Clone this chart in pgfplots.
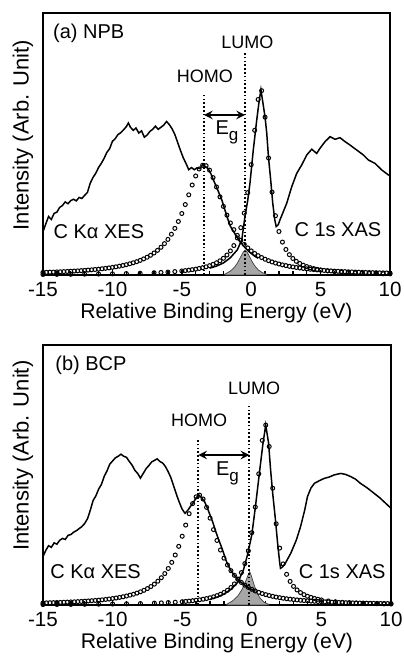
\documentclass[border=0pt]{standalone}
\usepackage{fontspec}
\setmainfont{Liberation Sans}
\usepackage{pgfplots}
\pgfplotsset{compat=1.18}
\newcommand\fa{\fontsize{10}{12}\selectfont}
\newcommand\fb{\fontsize{9}{11}\selectfont}
\newcommand\Eg{{\fontsize{10}{11}\selectfont E\raisebox{-0.55ex}{\fontsize{8.5}{9}\selectfont g}}}
\tikzset{vline/.style={dash pattern=on 0.8pt off 1.1pt, line width=0.9pt}}
\pgfplotsset{
  spec/.style={
    scale only axis, width=173.5pt,
    xmin=-15, xmax=10, ymin=0, ymax=100,
    xtick={-15,-10,-5,0,5,10}, minor x tick num=4,
    ytick=\empty, xtick pos=bottom, tick align=inside,
    major tick length=2.4pt, minor tick length=1.8pt,
    every tick/.style={line width=0.7pt, black},
    axis line style={line width=1.3pt},
    /pgf/number format/assume math mode=true,
    tick label style={font=\fontsize{10.3}{12}\selectfont},
    xlabel={Relative Binding Energy (eV)},
    ylabel={Intensity (Arb. Unit)},
    xlabel style={at={(axis description cs:0.5,0)}, anchor=base, yshift=-21.8pt, font=\fontsize{10.6}{12}\selectfont},
    clip=false,
  },
  xes/.style={black, line width=0.75pt},
  fitm/.style={only marks, mark=o, mark size=1.0pt, mark options={line width=0.5pt, black}},
  fitshade/.style={fill=gray!70, draw=black!75, line width=0.35pt},
}
\begin{document}
\begin{tikzpicture}
\useasboundingbox (-21.5pt,6.5pt) rectangle (180pt,-321.5pt);
% ---------------- (a) NPB ----------------
\begin{axis}[spec, height=131pt, at={(0,0)}, anchor=north west,
  ylabel style={at={(axis description cs:-0.0576,0.534)}, anchor=center, font=\fontsize{11}{13}\selectfont}]
\addplot[fitshade] coordinates {(-1.9,0.3) (-1.5,1.5) (-1.2,3.0) (-1.0,4.5) (-0.8,6.5) (-0.6,8.5) (-0.45,9.5) (-0.3,8.8) (-0.1,6.8) (0.1,4.8) (0.3,3.2) (0.5,2.0) (0.8,0.9) (1.1,0.3)} \closedcycle;
\addplot[xes] coordinates {
(-15.0,16.5) (-14.8,19.5) (-14.6,22.3) (-14.4,21.2) (-14.2,23.5) (-14.0,24.0) (-13.8,25.8) (-13.6,26.5) (-13.4,27.9) (-13.2,27.2)
(-13.0,28.4) (-12.8,28.9) (-12.6,28.3) (-12.4,29.6) (-12.2,29.2) (-12.0,30.4) (-11.8,31.5) (-11.6,35.0) (-11.4,37.2) (-11.2,38.8)
(-11.0,41.0) (-10.8,42.6) (-10.6,44.5) (-10.4,46.8) (-10.2,48.2) (-10.0,51.0) (-9.8,52.0) (-9.6,53.6) (-9.4,54.3) (-9.2,55.4)
(-9.0,56.6) (-8.85,58.0) (-8.7,56.4) (-8.5,55.2) (-8.3,56.1) (-8.1,54.2) (-7.9,55.0) (-7.7,52.6) (-7.5,53.4) (-7.3,54.8)
(-7.1,55.6) (-6.9,56.8) (-6.7,55.6) (-6.5,56.4) (-6.3,57.2) (-6.1,58.6) (-5.9,57.4) (-5.7,55.8) (-5.5,53.6) (-5.3,50.6)
(-5.1,47.6) (-4.9,44.8) (-4.7,42.6) (-4.5,40.2) (-4.3,41.0) (-4.1,40.2) (-3.9,40.9) (-3.7,40.6) (-3.5,42.0) (-3.3,41.4)
(-3.1,40.6) (-2.9,38.6) (-2.7,36.0) (-2.5,33.6) (-2.3,31.0) (-2.1,28.4) (-1.9,24.9) (-1.7,21.6) (-1.5,18.6) (-1.25,16.4)
(-1.0,14.2) (-0.75,12.4) (-0.5,10.8) (-0.25,9.4) (0.0,8.2) (0.25,7.2) (0.5,6.4)};
\addplot[xes] coordinates {
(-3.0,2.6) (-2.5,3.4) (-2.0,4.6) (-1.5,6.6) (-1.0,9.6) (-0.68,13.4) (-0.45,22.3) (-0.25,28.5) (-0.09,35.0) (0.15,47.7)
(0.4,59.2) (0.55,65.5) (0.7,70.7) (0.85,65.5) (1.0,60.2) (1.12,54.1) (1.25,44.6) (1.4,36.5) (1.55,27.5) (1.7,21.0)
(1.8,18.5) (1.95,19.2) (2.07,21.0) (2.3,24.0) (2.56,27.4) (2.92,33.7) (3.28,38.8) (3.64,42.0) (4.0,45.8) (4.36,48.0)
(4.72,46.4) (4.96,48.4) (5.32,50.9) (5.68,52.8) (6.04,51.8) (6.4,52.4) (6.76,50.9) (7.12,49.6) (7.6,47.7) (8.08,45.8)
(8.44,43.9) (8.92,42.6) (9.4,40.1) (9.88,38.2) (10.0,37.8)};
\addplot[fitm] coordinates {
(-15,0.99) (-14.75,1.03) (-14.5,1.08) (-14.25,1.12) (-14,1.18) (-13.75,1.23) (-13.5,1.29) (-13.25,1.36) (-13,1.43) (-12.75,1.50)
(-12.5,1.58) (-12.25,1.67) (-12,1.76) (-11.75,1.87) (-11.5,1.98) (-11.25,2.10) (-11,2.23) (-10.75,2.38) (-10.5,2.54) (-10.25,2.71)
(-10,2.91) (-9.75,3.12) (-9.5,3.37) (-9.25,3.63) (-9,3.93) (-8.75,4.27) (-8.5,4.65) (-8.25,5.08) (-8,5.58) (-7.75,6.14)
(-7.5,6.79) (-7.25,7.53) (-7,8.40) (-6.75,9.41) (-6.5,10.58) (-6.25,11.97) (-6,13.59) (-5.75,15.56) (-5.5,17.80) (-5.25,20.43)
(-5,23.46) (-4.75,26.88) (-4.5,30.59) (-4.25,34.34) (-4,37.80) (-3.75,40.47) (-3.5,41.87) (-3.25,41.71) (-3,40.02) (-2.75,37.16)
(-2.5,33.60) (-2.25,29.83) (-2,26.17) (-1.75,22.83) (-1.5,19.87) (-1.25,17.31) (-1,15.12) (-0.75,13.26) (-0.5,11.68) (-0.25,10.34)
(0,9.19) (0.25,8.22) (0.5,7.38) (0.75,6.66) (1,6.02) (1.25,5.47) (1.5,4.99) (1.75,4.57) (2,4.20) (2.25,3.87)
(2.5,3.58) (2.75,3.31) (3,3.08) (3.25,2.87) (3.5,2.68) (3.75,2.51) (4,2.35) (4.25,2.20) (4.5,2.07) (4.75,1.95)
(5,1.84) (5.25,1.74) (5.5,1.65) (5.75,1.56) (6,1.49) (6.25,1.41) (6.5,1.35) (6.75,1.28) (7,1.22) (7.25,1.17)
(7.5,1.11) (7.75,1.07) (8,1.02) (8.25,0.98) (8.5,0.94) (8.75,0.90) (9,0.87) (9.25,0.83) (9.5,0.80) (9.75,0.77) (10,0.75)};
\addplot[fitm] coordinates {
(-15,0.21) (-14,0.24) (-13,0.27) (-12,0.32) (-11,0.37) (-10,0.44) (-9,0.54) (-8,0.67) (-7,0.85) (-6.5,0.97)
(-6,1.12) (-5.5,1.30) (-5,1.54) (-4.75,1.68) (-4.5,1.84) (-4.25,2.03) (-4,2.24) (-3.75,2.49) (-3.5,2.78) (-3.25,3.13)
(-3,3.55) (-2.75,4.05) (-2.5,4.66) (-2.25,5.42) (-2,6.38) (-1.75,7.62) (-1.5,9.18) (-1.25,11.23) (-1,14.14) (-0.75,18.07)
(-0.5,23.62) (-0.25,31.44) (0,42.13) (0.25,55.23) (0.5,66.99) (0.75,70.36) (1,60.24) (1.25,44.65) (1.5,31.64) (1.75,22.61)
(2,16.60) (2.25,12.55) (2.5,9.75) (2.75,7.76) (3,6.31) (3.25,5.22) (3.5,4.39) (3.75,3.73) (4,3.21) (4.25,2.79)
(4.5,2.45) (4.75,2.17) (5,1.93) (5.5,1.56) (6,1.28) (6.5,1.07) (7,0.91) (7.5,0.78) (8,0.68) (8.5,0.60)
(9,0.53) (9.5,0.47) (10,0.42)};
\draw[vline] (axis cs:-3.4,0) -- (axis cs:-3.4,68.7);
\draw[vline] (axis cs:-0.45,0) -- (axis cs:-0.45,84.6);
\draw[<->, >=stealth, line width=0.9pt] (axis cs:-3.4,61.1) -- (axis cs:-0.45,61.1);
\node[font=\fb] at (axis cs:-3.33,75.7) {HOMO};
\node[font=\fb] at (axis cs:-0.28,89) {LUMO};
\node at (axis cs:-1.75,54.5) {\Eg};
\node[font=\fa, anchor=west, inner sep=0pt] at (axis cs:-14.3,92.2) {(a) NPB};
\node[font=\fa, anchor=west, inner sep=0pt] at (axis cs:-14.26,16.5) {C Kα XES};
\node[font=\fa, anchor=east, inner sep=0pt] at (axis cs:9.4,17.2) {C 1s XAS};
\end{axis}
% ---------------- (b) BCP ----------------
\begin{axis}[spec, width=174pt, height=130pt, at={(0,-166pt)}, anchor=north west,
  ylabel style={at={(axis description cs:-0.0576,0.574)}, anchor=center, font=\fontsize{11}{13}\selectfont}]
\addplot[fitshade] coordinates {(-1.8,0.3) (-1.4,1.5) (-1.0,3.5) (-0.7,6.0) (-0.45,9.0) (-0.25,11.8) (-0.15,12.8) (-0.05,11.5) (0.15,8.0) (0.35,5.0) (0.6,2.6) (0.9,1.0) (1.2,0.3)} \closedcycle;
\addplot[xes] coordinates {
(-15.0,18.6) (-14.8,21.0) (-14.6,22.8) (-14.4,22.2) (-14.2,23.9) (-14.0,23.4) (-13.8,24.9) (-13.6,25.6) (-13.4,25.2) (-13.2,26.8)
(-13.0,27.1) (-12.8,28.0) (-12.6,28.6) (-12.4,29.4) (-12.2,30.2) (-12.0,31.4) (-11.8,33.2) (-11.6,36.5) (-11.4,40.2) (-11.2,42.0)
(-11.0,44.6) (-10.8,46.4) (-10.6,49.5) (-10.4,51.6) (-10.2,54.2) (-10.0,55.4) (-9.8,56.6) (-9.6,57.2) (-9.4,58.0) (-9.2,57.2)
(-9.0,56.8) (-8.8,55.2) (-8.6,53.8) (-8.4,51.8) (-8.2,50.6) (-8.0,48.8) (-7.8,50.6) (-7.6,52.4) (-7.4,53.6) (-7.2,55.0)
(-7.0,55.6) (-6.8,56.2) (-6.6,55.2) (-6.4,54.6) (-6.2,53.2) (-6.0,51.2) (-5.8,48.8) (-5.6,45.6) (-5.4,42.3) (-5.2,39.4)
(-5.0,36.8) (-4.8,35.3) (-4.6,36.4) (-4.4,38.0) (-4.2,39.4) (-4.0,41.2) (-3.8,42.3) (-3.6,41.2) (-3.4,39.8) (-3.2,37.4)
(-3.0,34.6) (-2.8,31.8) (-2.6,28.4) (-2.4,25.4) (-2.2,22.6) (-2.0,19.6) (-1.8,16.4) (-1.5,13.2) (-1.25,11.4) (-1.0,9.9)
(-0.75,8.6) (-0.5,7.6) (-0.25,6.7) (0.0,5.9) (0.25,5.3)};
\addplot[xes] coordinates {
(-3.0,2.2) (-2.5,3.0) (-2.0,4.2) (-1.5,6.0) (-1.0,8.8) (-0.6,13.5) (-0.3,19.5) (0.0,27.0) (0.26,37.8) (0.6,53.2)
(0.8,62.0) (1.0,69.2) (1.2,62.5) (1.35,52.0) (1.5,43.0) (1.7,32.7) (1.85,24.0) (2.0,16.5) (2.06,14.1) (2.2,14.6)
(2.4,16.0) (2.8,19.9) (3.2,25.0) (3.5,30.1) (3.8,36.5) (4.0,41.7) (4.25,45.0) (4.5,46.8) (4.85,47.8) (5.2,48.7)
(5.55,49.2) (5.9,50.0) (6.2,50.4) (6.4,50.6) (6.75,50.2) (7.1,49.4) (7.45,48.4) (7.8,46.8) (8.3,45.0) (8.8,42.9)
(9.2,41.2) (9.5,39.7) (10.0,37.2)};
\addplot[fitm] coordinates {
(-15,0.79) (-14.75,0.83) (-14.5,0.87) (-14.25,0.91) (-14,0.95) (-13.75,1.00) (-13.5,1.05) (-13.25,1.11) (-13,1.17) (-12.75,1.23)
(-12.5,1.30) (-12.25,1.38) (-12,1.46) (-11.75,1.55) (-11.5,1.65) (-11.25,1.76) (-11,1.88) (-10.75,2.00) (-10.5,2.14) (-10.25,2.30)
(-10,2.49) (-9.75,2.69) (-9.5,2.92) (-9.25,3.17) (-9,3.46) (-8.75,3.79) (-8.5,4.15) (-8.25,4.58) (-8,5.07) (-7.75,5.65)
(-7.5,6.31) (-7.25,7.10) (-7,8.04) (-6.75,9.16) (-6.5,10.49) (-6.25,12.09) (-6,14.05) (-5.75,16.40) (-5.5,19.23) (-5.25,22.56)
(-5,26.45) (-4.75,30.74) (-4.5,35.13) (-4.25,39.01) (-4,41.61) (-3.75,42.26) (-3.5,40.77) (-3.25,37.57) (-3,33.41) (-2.75,28.99)
(-2.5,24.84) (-2.25,21.15) (-2,18.01) (-1.75,15.39) (-1.5,13.21) (-1.25,11.41) (-1,9.92) (-0.75,8.68) (-0.5,7.65) (-0.25,6.78)
(0,6.03) (0.25,5.40) (0.5,4.86) (0.75,4.40) (1,3.99) (1.25,3.64) (1.5,3.33) (1.75,3.06) (2,2.82) (2.25,2.60)
(2.5,2.41) (2.75,2.24) (3,2.09) (3.25,1.95) (3.5,1.82) (3.75,1.71) (4,1.61) (4.25,1.51) (4.5,1.43) (4.75,1.35)
(5,1.27) (5.25,1.21) (5.5,1.14) (5.75,1.09) (6,1.03) (6.25,0.98) (6.5,0.94) (6.75,0.89) (7,0.85) (7.25,0.82)
(7.5,0.78) (7.75,0.75) (8,0.72) (8.25,0.69) (8.5,0.66) (8.75,0.64) (9,0.61) (9.25,0.59) (9.5,0.57) (9.75,0.55) (10,0.53)};
\addplot[fitm] coordinates {
(-15,0.18) (-14,0.21) (-13,0.24) (-12,0.27) (-11,0.32) (-10,0.38) (-9,0.46) (-8,0.57) (-7,0.72) (-6.5,0.82)
(-6,0.94) (-5.5,1.08) (-5,1.27) (-4.75,1.38) (-4.5,1.50) (-4.25,1.65) (-4,1.81) (-3.75,2.00) (-3.5,2.22) (-3.25,2.48)
(-3,2.78) (-2.75,3.16) (-2.5,3.60) (-2.25,4.14) (-2,4.82) (-1.75,5.65) (-1.5,6.72) (-1.25,8.11) (-1,9.96) (-0.75,12.46)
(-0.5,15.92) (-0.25,20.82) (0,27.82) (0.25,37.68) (0.5,50.44) (0.75,63.31) (1,69.2) (1.25,60.96) (1.5,44.92) (1.75,31.22)
(2,21.88) (2.25,15.80) (2.5,11.80) (2.75,9.08) (3,7.17) (3.25,5.79) (3.5,4.77) (3.75,3.99) (4,3.38) (4.25,2.90)
(4.5,2.52) (4.75,2.20) (5,1.94) (5.5,1.54) (6,1.25) (6.5,1.04) (7,0.88) (7.5,0.75) (8,0.65) (8.5,0.56)
(9,0.50) (9.5,0.44) (10,0.39)};
\draw[vline] (axis cs:-3.84,0) -- (axis cs:-3.84,64.1);
\draw[vline] (axis cs:-0.18,0) -- (axis cs:-0.18,76.9);
\draw[<->, >=stealth, line width=0.9pt] (axis cs:-3.84,57.7) -- (axis cs:-0.18,57.7);
\node[font=\fb] at (axis cs:-3.79,71.2) {HOMO};
\node[font=\fb] at (axis cs:0.16,83.3) {LUMO};
\node at (axis cs:-1.75,50.5) {\Eg};
\node[font=\fa, anchor=west, inner sep=0pt] at (axis cs:-14.14,92.3) {(b) BCP};
\node[font=\fa, anchor=west, inner sep=0pt] at (axis cs:-14.5,12.8) {C Kα XES};
\node[font=\fa, anchor=east, inner sep=0pt] at (axis cs:9.64,12.8) {C 1s XAS};
\end{axis}
\end{tikzpicture}
\end{document}
